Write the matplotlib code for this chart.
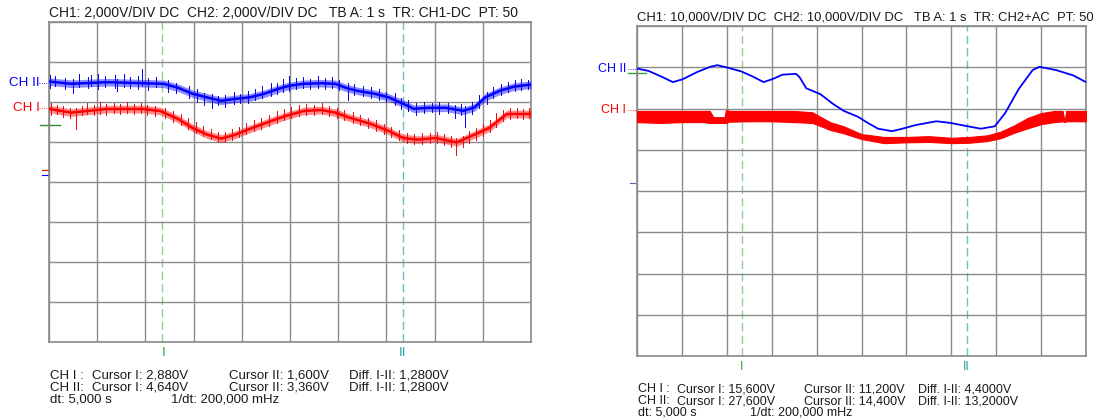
import numpy as np
import matplotlib
matplotlib.use("Agg")
import matplotlib.pyplot as plt

plt.rcParams['font.family'] = ['Liberation Sans', 'DejaVu Sans']

W, H = 1097, 420

# ---------------- left screen: 2 V/div, 1 s/div ----------------
L_T_I  = [0.01, 0.46, 1.2, 1.94, 2.31, 2.68, 2.98, 3.28, 3.57, 3.87, 4.16, 4.61, 4.91,
          5.28, 5.64, 5.94, 6.23, 6.68, 7.05, 7.35, 7.65, 8.02, 8.46, 8.83, 9.13, 9.5, 10.0]
L_V_I  = [3.07, 2.89, 3.07, 3.07, 2.97, 2.57, 2.12, 1.79, 1.59, 1.79, 2.07, 2.47, 2.72,
          2.97, 3.02, 2.89, 2.64, 2.32, 1.97, 1.62, 1.54, 1.62, 1.40, 1.79, 2.12, 2.82, 2.82]

L_T_II = [0.01, 0.46, 1.2, 1.94, 2.38, 2.68, 2.98, 3.28, 3.57, 3.87, 4.16, 4.46, 4.76, 4.98,
          5.28, 5.64, 5.94, 6.16, 6.39, 6.76, 7.05, 7.35, 7.57, 7.87, 8.23, 8.6, 8.83, 9.05,
          9.35, 9.65, 10.0]
L_V_II = [4.68, 4.57, 4.65, 4.60, 4.57, 4.37, 4.07, 3.89, 3.72, 3.82, 3.89, 4.07, 4.32, 4.47,
          4.57, 4.60, 4.57, 4.37, 4.22, 4.07, 3.89, 3.57, 3.32, 3.37, 3.37, 3.22, 3.39, 3.89,
          4.22, 4.43, 4.53]

# noise spikes (t, low, high) in volts
L_SPK_I = [(0.04, 2.75, 3.35), (0.17, 2.8, 3.25), (0.29, 2.65, 3.2), (0.44, 2.6, 3.1),
           (0.55, 2.05, 3.1), (0.68, 2.75, 3.2), (0.79, 2.8, 3.35), (0.93, 2.75, 3.25),
           (1.05, 2.8, 3.4), (1.19, 2.75, 3.3), (1.34, 2.85, 3.35), (1.48, 2.8, 3.3),
           (1.61, 2.85, 3.4), (1.77, 2.8, 3.3), (1.9, 2.85, 3.35), (2.04, 2.75, 3.25),
           (2.2, 2.7, 3.2), (2.4, 2.6, 3.1), (2.57, 2.4, 2.95), (2.73, 2.25, 2.8),
           (2.88, 2.05, 2.6), (3.05, 1.85, 2.4), (3.2, 1.7, 2.2), (3.36, 1.55, 2.05),
           (3.5, 1.4, 1.9), (3.65, 1.4, 1.9), (3.8, 1.5, 2.05), (3.94, 1.65, 2.15),
           (4.08, 1.8, 2.35), (4.25, 1.95, 2.5), (4.4, 2.05, 2.6), (4.57, 2.2, 2.75),
           (4.72, 2.35, 2.95), (4.88, 2.5, 3.05), (5.02, 2.6, 3.15), (5.18, 2.7, 3.25),
           (5.33, 2.75, 3.3), (5.5, 2.75, 3.25), (5.66, 2.8, 3.35), (5.81, 2.7, 3.2),
           (5.97, 2.6, 3.1), (6.12, 2.5, 3.0), (6.3, 2.35, 2.9), (6.45, 2.25, 2.75),
           (6.62, 2.1, 2.6), (6.78, 1.95, 2.5), (6.95, 1.8, 2.3), (7.1, 1.65, 2.15),
           (7.27, 1.5, 2.0), (7.42, 1.35, 1.85), (7.58, 1.3, 1.8), (7.73, 1.3, 1.85),
           (7.9, 1.35, 1.85), (8.05, 1.35, 1.9), (8.2, 1.25, 1.8), (8.35, 1.15, 1.7),
           (8.45, 0.75, 1.6), (8.58, 1.15, 1.7), (8.72, 1.35, 1.95), (8.86, 1.5, 2.1),
           (9.0, 1.7, 2.3), (9.14, 1.9, 2.5), (9.28, 2.15, 2.85), (9.42, 2.45, 3.0),
           (9.56, 2.55, 3.1), (9.7, 2.6, 3.1), (9.84, 2.55, 3.05), (9.96, 2.6, 3.1)]
L_SPK_II = [(0.03, 4.35, 5.0), (0.12, 4.45, 4.95), (0.33, 4.3, 4.85), (0.5, 4.1, 4.8),
            (0.62, 4.4, 5.05), (0.81, 4.35, 4.9), (0.88, 4.45, 5.0), (1.02, 4.3, 5.05),
            (1.17, 4.4, 4.95), (1.36, 4.35, 5.0), (1.41, 4.2, 4.8), (1.55, 4.4, 5.05),
            (1.68, 4.35, 4.9), (1.84, 4.3, 4.95), (1.93, 4.45, 5.3), (2.05, 4.25, 4.85),
            (2.22, 4.4, 4.9), (2.47, 4.15, 4.75), (2.63, 4.1, 4.6), (2.9, 3.85, 4.45),
            (3.07, 3.65, 4.3), (3.22, 3.5, 4.1), (3.38, 3.35, 4.05), (3.5, 3.5, 3.95),
            (3.66, 3.4, 4.0), (3.84, 3.55, 4.15), (3.97, 3.6, 4.05), (4.12, 3.6, 4.2),
            (4.27, 3.75, 4.3), (4.42, 3.85, 4.45), (4.6, 3.95, 4.6), (4.72, 4.05, 4.6),
            (4.86, 4.15, 4.8), (4.97, 4.2, 4.95), (5.12, 4.3, 4.85), (5.26, 4.35, 4.9),
            (5.41, 4.3, 4.8), (5.58, 4.35, 4.95), (5.72, 4.3, 4.85), (5.88, 4.35, 4.9),
            (6.02, 4.25, 4.75), (6.2, 3.75, 4.6), (6.33, 4.0, 4.55), (6.52, 3.95, 4.45),
            (6.68, 3.85, 4.4), (6.85, 3.75, 4.3), (7.0, 3.65, 4.15), (7.18, 3.5, 4.1),
            (7.31, 3.3, 3.85), (7.45, 3.2, 3.75), (7.62, 3.0, 3.6), (7.78, 3.1, 3.65),
            (7.95, 3.15, 3.6), (8.1, 3.05, 3.65), (8.28, 3.1, 3.6), (8.42, 2.85, 3.5),
            (8.55, 3.0, 3.55), (8.63, 2.4, 3.45), (8.78, 3.05, 3.65), (8.92, 3.35, 4.0),
            (9.08, 3.55, 4.15), (9.22, 3.85, 4.4), (9.38, 4.0, 4.55), (9.52, 4.15, 4.65),
            (9.66, 4.2, 4.75), (9.8, 4.25, 4.8), (9.94, 4.3, 4.75)]

# ---------------- right screen: 10 V/div, 1 s/div ----------------
R_T_II = [0.0, 0.26, 0.57, 0.80, 1.02, 1.33, 1.63, 1.79, 2.02, 2.32, 2.55, 2.82, 3.01, 3.24,
          3.54, 3.62, 3.77, 4.08, 4.38, 4.61, 4.92, 5.14, 5.37, 5.68, 5.91, 6.21, 6.67, 6.98,
          7.36, 7.66, 7.97, 8.2, 8.5, 8.81, 8.96, 9.34, 9.72, 10.0]
R_V_II = [27.8, 27.2, 25.7, 24.5, 25.2, 26.9, 28.2, 28.6, 28.0, 27.1, 26.0, 24.5, 25.2, 26.3,
          26.5, 25.7, 23.0, 21.6, 19.1, 17.5, 16.1, 14.6, 13.2, 12.6, 13.2, 14.1, 15.0, 14.6,
          13.8, 13.2, 13.8, 17.0, 22.8, 27.4, 28.2, 27.4, 26.1, 24.5]

R_T_I  = [0.0, 0.5, 1.0, 1.5, 1.62, 1.7, 1.95, 1.98, 2.02, 2.05, 2.5, 3.0, 3.5, 3.9, 4.1,
          4.3, 4.6, 5.0, 5.5, 6.0, 6.5, 7.0, 7.4, 7.8, 8.1, 8.4, 8.7, 9.0, 9.3, 9.48, 9.52,
          9.56, 10.0]
R_HI_I = [17.5, 17.5, 17.5, 17.5, 17.5, 16.0, 16.0, 17.7, 17.7, 17.5, 17.5, 17.5, 17.5, 17.2,
          16.0, 14.8, 13.8, 11.9, 11.2, 11.2, 11.4, 11.0, 11.2, 11.6, 12.5, 14.0, 15.8, 17.0,
          17.5, 17.5, 15.0, 17.5, 17.5]
R_LO_I = [14.8, 14.6, 14.8, 14.8, 14.6, 14.6, 14.6, 14.6, 14.8, 14.9, 15.0, 15.0, 14.8, 14.6,
          13.8, 12.9, 12.1, 10.7, 9.7, 9.9, 10.0, 9.7, 9.8, 10.2, 10.9, 12.2, 13.3, 14.3,
          14.8, 15.0, 14.8, 15.0, 15.0]

CURSORS = [2.34, 7.34]

TITLE_L = "CH1: 2,000V/DIV DC  CH2: 2,000V/DIV DC   TB A: 1 s  TR: CH1-DC  PT: 50"
TITLE_R = "CH1: 10,000V/DIV DC  CH2: 10,000V/DIV DC   TB A: 1 s  TR: CH2+AC  PT: 50"

INFO_L = [["CH I :", "Cursor I: 2,880V", "Cursor II: 1,600V", "Diff. I-II: 1,2800V"],
          ["CH II:", "Cursor I: 4,640V", "Cursor II: 3,360V", "Diff. I-II: 1,2800V"],
          ["dt: 5,000 s", "1/dt: 200,000 mHz"]]
INFO_R = [["CH I :", "Cursor I: 15,600V", "Cursor II: 11,200V", "Diff. I-II: 4,4000V"],
          ["CH II:", "Cursor I: 27,600V", "Cursor II: 14,400V", "Diff. I-II: 13,2000V"],
          ["dt: 5,000 s", "1/dt: 200,000 mHz"]]

BLUE = '#0000ff'
RED = '#ff0000'
GRIDC = '#8a8a8a'
TXT = '#1a1a1a'
CUR1 = '#8fd08f'
CUR2 = '#6cc0c0'
NOISE = 0.19   # half-width of the fuzzy trace band, volts


def fx(x):
    return x / W


def fy(y):
    return 1 - y / H


def screen(fig, box, title, title_x, title_y, fs):
    x0, y0, x1, y1 = box
    ax = fig.add_axes([fx(x0), fy(y1), fx(x1 - x0), (y1 - y0) / H])
    ax.set_xlim(0, 10)
    ax.set_ylim(0, 8)
    ax.set_xticks(range(11))
    ax.set_yticks(range(9))
    ax.tick_params(length=0, labelbottom=False, labelleft=False)
    ax.grid(True, color=GRIDC, lw=1.0)
    for s in ax.spines.values():
        s.set_color(GRIDC)
        s.set_linewidth(1.2)
    for c, col in zip(CURSORS, [CUR1, CUR2]):
        ax.axvline(c, color=col, lw=1.0, ls=(0, (6, 3)), zorder=1)
    fig.text(fx(title_x), fy(title_y), title, fontsize=fs, color=TXT, va='center', ha='left')
    return ax


def info(fig, rows, xs, ys, x3, fs):
    for r, row in enumerate(rows[:2]):
        for s, x in zip(row, xs):
            fig.text(fx(x), fy(ys[r]), s, fontsize=fs, color=TXT, va='center', ha='left')
    fig.text(fx(xs[0]), fy(ys[2]), rows[2][0], fontsize=fs, color=TXT, va='center', ha='left')
    fig.text(fx(x3), fy(ys[2]), rows[2][1], fontsize=fs, color=TXT, va='center', ha='left')


def noisy(ax, t, v, spikes, g, vd, col):
    v = np.array(v)
    ax.fill_between(t, g + (v - NOISE) / vd, g + (v + NOISE) / vd, color=col,
                    alpha=0.45, lw=0, zorder=3)
    ax.plot(t, g + v / vd, color=col, lw=1.8, zorder=3)
    for st, lo, hi in spikes:
        ax.plot([st, st], [g + lo / vd, g + hi / vd], color=col, lw=0.7, zorder=3)


fig = plt.figure(figsize=(W / 100, H / 100), dpi=100)

# ---- left ----
axl = screen(fig, (49, 22, 531, 342), TITLE_L, 49, 13, 10)
gI, gII = 4.29, 4.17
noisy(axl, L_T_II, L_V_II, L_SPK_II, gII, 2.0, BLUE)
noisy(axl, L_T_I, L_V_I, L_SPK_I, gI, 2.0, RED)
# channel markers
axl.plot([-0.2, 0], [8 - (83 - 22) / 40] * 2, color=BLUE, lw=0.6, ls=':', clip_on=False)
axl.plot([-0.2, 0], [8 - (108 - 22) / 40] * 2, color=RED, lw=0.6, ls=':', clip_on=False)
fig.text(fx(40), fy(83), "CH II", color=BLUE, fontsize=9.6, va='center', ha='right')
fig.text(fx(40), fy(108), "CH I", color=RED, fontsize=9.6, va='center', ha='right')
axl.plot([-0.19, 0.23], [8 - (125 - 22) / 40] * 2, color='#2e8b2e', lw=1.0, clip_on=False)
axl.plot([-0.15, 0.0], [gI, gI], color=RED, lw=0.8, clip_on=False)
axl.plot([-0.15, 0.0], [gII, gII], color=BLUE, lw=0.8, clip_on=False)
fig.text(fx(164), fy(353), "I", color='#3aa03a', fontsize=9.6, va='center', ha='center')
fig.text(fx(403), fy(353), "II", color='#2aa0a0', fontsize=9.6, va='center', ha='center')
info(fig, INFO_L, [50, 92, 229, 349], [376, 388, 400], 171, 9.5)

# ---- right ----
axr = screen(fig, (637, 26, 1086, 356), TITLE_R, 637, 18, 9.4)
g = 4.19
vd = 10.0
axr.fill_between(R_T_I, g + np.array(R_LO_I) / vd, g + np.array(R_HI_I) / vd,
                 color=RED, lw=0.8, zorder=3)
axr.plot(R_T_II, g + np.array(R_V_II) / vd, color=BLUE, lw=1.3, zorder=4)
axr.plot([-0.2, 0], [8 - (69 - 26) / 41.25] * 2, color=BLUE, lw=0.6, ls=':', clip_on=False)
axr.plot([-0.2, 0], [8 - (110 - 26) / 41.25] * 2, color=RED, lw=0.6, ls=':', clip_on=False)
fig.text(fx(626), fy(69), "CH II", color=BLUE, fontsize=9, va='center', ha='right')
fig.text(fx(626), fy(110), "CH I", color=RED, fontsize=9, va='center', ha='right')
axr.plot([-0.2, 0.2], [8 - (72.5 - 26) / 41.25] * 2, color='#3aa03a', lw=1.0, clip_on=False)
axr.plot([-0.15, -0.05], [g, g], color='#6060a0', lw=0.8, clip_on=False)
fig.text(fx(742), fy(367), "I", color='#3aa03a', fontsize=9, va='center', ha='center')
fig.text(fx(966), fy(367), "II", color='#2aa0a0', fontsize=9, va='center', ha='center')
info(fig, INFO_R, [638, 677, 804, 918], [389.5, 401, 412.5], 750, 9)

fig.savefig("out.png", dpi=100)
